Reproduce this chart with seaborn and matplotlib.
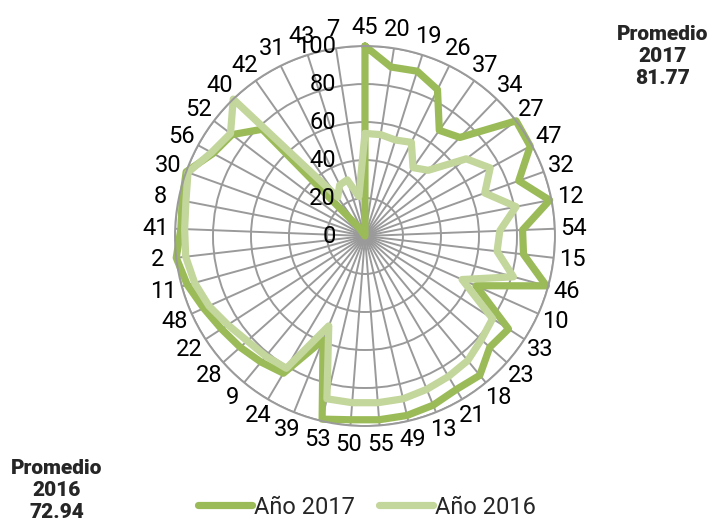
import numpy as np
import pandas as pd
import matplotlib
matplotlib.use("Agg")
import matplotlib.pyplot as plt
from matplotlib.lines import Line2D
from matplotlib.transforms import offset_copy
import seaborn as sns

# categorias (en orden horario desde arriba)
categorias = [45, 20, 19, 26, 37, 34, 27, 47, 32, 12, 54, 15, 46, 10, 33, 23, 18, 21, 13, 49,
              55, 50, 53, 39, 24, 9, 28, 22, 48, 11, 2, 41, 8, 30, 56, 52, 40, 42, 31, 43, 7]
valores_2017 = [100, 90, 91, 86, 68, 72, 100, 99, 86, 99, 83, 84, 99, 64, 90, 88, 95, 94, 96, 97,
                97, 97, 99, 59, 84, 86, 88, 90, 93, 97, 100, 97, 98, 100, 91, 88, 78, 5, 0, 0, 0]
valores_2016 = [54, 54, 53, 55, 44, 48, 67, 75, 67, 81, 71, 70, 81, 56, 80, 82, 85, 86, 87, 88,
                88, 88, 88, 51, 81, 82, 83, 86, 90, 93, 95, 95, 96, 99, 92, 89, 100, 25, 30, 31, 21]
series = ["Año 2017", "Año 2016"]
promedios = {"2017": "81.77", "2016": "72.94"}
radial_ticks = [0, 20, 40, 60, 80, 100]

colores = {"Año 2017": "#9BBB59", "Año 2016": "#C3D69B"}
gris = "#9a9a9a"

sns.set_theme(style="white")
plt.rcParams['font.family'] = ['Roboto', 'DejaVu Sans']

n = len(categorias)
theta = np.linspace(0, 2 * np.pi, n, endpoint=False)

# build long-form table, closing each loop
rows = []
for nombre, vals in zip(series, [valores_2017, valores_2016]):
    for t, v in zip(list(theta) + [2 * np.pi], vals + [vals[0]]):
        rows.append({"theta": t, "valor": v, "serie": nombre})
df = pd.DataFrame(rows)

fig = plt.figure(figsize=(7.13, 5.29), dpi=100)
ax = fig.add_axes([0.2454, 0.1947, 0.533, 0.7183], projection='polar')
ax.set_theta_zero_location('N')
ax.set_theta_direction(-1)

sns.lineplot(data=df, x="theta", y="valor", hue="serie", hue_order=series, palette=colores,
             sort=False, estimator=None, linewidth=5.2, legend=False, ax=ax)
for ln in ax.get_lines():
    ln.set_clip_on(False)

ax.set_ylim(0, 100)
ax.set_yticks(radial_ticks[1:])
ax.set_yticklabels([])
ax.set_xticks(theta)
ax.set_xticklabels([])
ax.set_xlabel("")
ax.set_ylabel("")
ax.grid(True, color=gris, linewidth=1.4)
ax.spines['polar'].set_color(gris)
ax.spines['polar'].set_linewidth(1.4)

# category labels
for t, c in zip(theta, categorias):
    ax.text(t, 110, str(c), ha='center', va='center', fontsize=17, color='black')

# radial labels, shifted left of the top spoke
tr = offset_copy(ax.transData, fig=fig, x=-21, y=0, units='points')
for r in radial_ticks:
    ax.text(0, r, str(r), transform=tr, ha='right', va='center', fontsize=17, color='black')

handles = [Line2D([0], [0], color=colores[s], lw=5.2, solid_capstyle='round') for s in series]
fig.legend(handles, series, loc='center', bbox_to_anchor=(367 / 713, 1 - 507 / 529), ncol=2,
           frameon=False, fontsize=17, handlelength=2.3, handletextpad=0.1, columnspacing=1.0)

fig.text(663 / 713, 1 - 57 / 529, f"Promedio\n2017\n{promedios['2017']}", ha='center', va='center',
         fontsize=15, fontweight='black', linespacing=1.2)
fig.text(57 / 713, 1 - 490 / 529, f"Promedio\n2016\n{promedios['2016']}", ha='center', va='center',
         fontsize=15, fontweight='black', linespacing=1.2)

fig.savefig("out.png", dpi=100)
